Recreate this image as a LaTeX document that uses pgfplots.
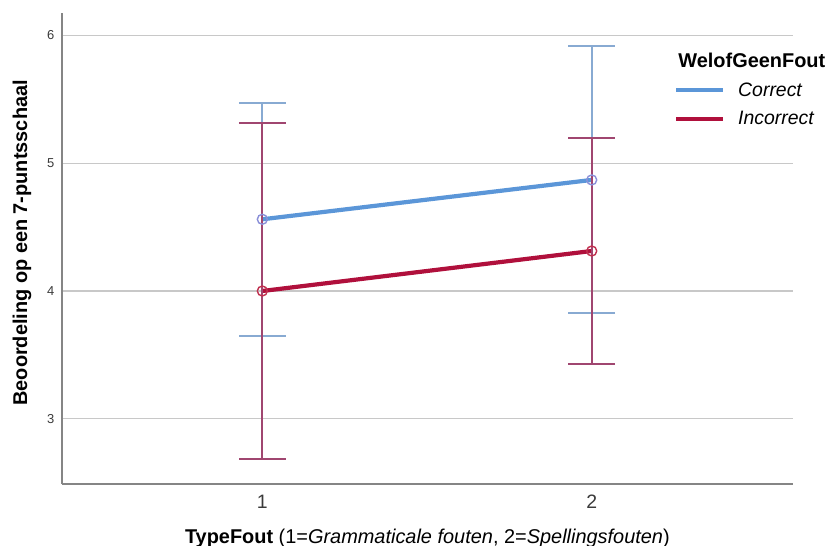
\documentclass[border=0pt]{standalone}
\usepackage{fontspec}
\setmainfont{Liberation Sans}
\usepackage{pgfplots}
\pgfplotsset{compat=1.18}
\definecolor{corrline}{HTML}{5B96D8}
\definecolor{corrmark}{HTML}{8A8FD8}
\definecolor{corrbar}{HTML}{88AAD2}
\definecolor{incline}{HTML}{B0103C}
\definecolor{incmark}{HTML}{C0304F}
\definecolor{incbar}{HTML}{A04670}
\definecolor{legblue}{HTML}{4472C4}
\definecolor{legred}{HTML}{D9262E}
\definecolor{gridgray}{HTML}{C8C8C8}
\definecolor{axisgray}{HTML}{858585}
\definecolor{ticktext}{HTML}{3A3A3A}
\begin{document}
\begin{tikzpicture}
\begin{axis}[
  scale only axis, width=731.3bp, height=471bp,
  xmin=0.391, xmax=2.611, ymin=2.49, ymax=6.175,
  clip=false,
  xtick={1,2}, ytick={3,4,5,6},
  major tick length=0pt,
  axis lines*=left,
  axis line style={draw=axisgray, line width=1.8bp},
  ymajorgrids, major grid style={draw=gridgray, line width=1.3bp},
  /pgf/number format/assume math mode=true,
  xticklabel style={font=\fontsize{19.5}{19.5}\selectfont, anchor=center, yshift=-18bp, text=ticktext},
  yticklabel style={font=\fontsize{13}{13}\selectfont, anchor=center, xshift=-11bp, text=ticktext},
  xlabel={\textbf{TypeFout} (1=\textit{Grammaticale fouten}, 2=\textit{Spellingsfouten})},
  ylabel={\textbf{Beoordeling op een 7-puntsschaal}},
  xlabel style={at={(axis description cs:0.5,-0.1253)}, anchor=base, font=\fontsize{20}{20}\selectfont},
  ylabel style={at={(axis description cs:-0.0474,0.512)}, anchor=base, font=\fontsize{20}{20}\selectfont},
  legend style={draw=none, fill=none, at={(axis description cs:0.837,0.855)}, anchor=north west,
    font=\itshape\fontsize{19.5}{19.5}\selectfont, row sep=12bp, inner sep=0pt,
    nodes={inner sep=1bp}, cells={anchor=west}},
  legend image code/.code={\draw[#1] (0bp,0bp) -- (47bp,0bp); \path (59bp,0bp);},
]
% Correct
\addplot[corrline, line width=4.2bp, mark=o, mark size=5bp,
  mark options={draw=corrmark, fill=none, line width=1.4bp},
  error bars/.cd, y dir=both, y explicit,
  error bar style={draw=corrbar, line width=1.7bp},
  error mark options={rotate=90, mark size=23.4bp, draw=corrbar, line width=1.7bp}]
  table[x=x, y=y, y error plus=ep, y error minus=em] {
  x y ep em
  1 4.561 0.908 0.911
  2 4.869 1.048 1.039
};
% Incorrect
\addplot[incline, line width=4.2bp, mark=o, mark size=5bp,
  mark options={draw=incmark, fill=none, line width=1.4bp},
  error bars/.cd, y dir=both, y explicit,
  error bar style={draw=incbar, line width=1.7bp},
  error mark options={rotate=90, mark size=23.4bp, draw=incbar, line width=1.7bp}]
  table[x=x, y=y, y error plus=ep, y error minus=em] {
  x y ep em
  1 4.000 1.317 1.315
  2 4.313 0.882 0.884
};
\addlegendimage{legblue, line width=1.8bp}
\addlegendentry{Correct}
\addlegendimage{legred, line width=1.8bp}
\addlegendentry{Incorrect}
\node[anchor=base west, font=\bfseries\fontsize{20}{20}\selectfont, inner sep=0pt]
  at (rel axis cs:0.843,0.885) {WelofGeenFout};
\end{axis}
\pgfresetboundingbox
\path (-61.7bp,-62bp) rectangle (770.3bp,484bp);
\end{tikzpicture}
\end{document}
